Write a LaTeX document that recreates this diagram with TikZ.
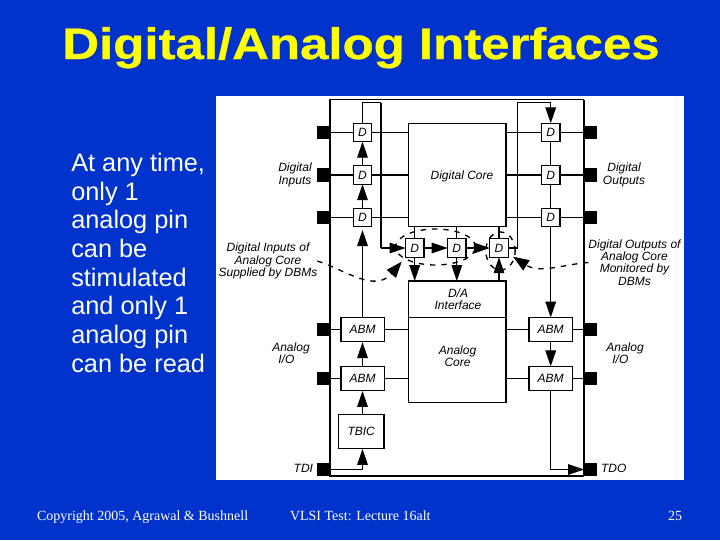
\documentclass[tikz,border=0pt]{standalone}
\usepackage{fontspec}
\setmainfont{Liberation Sans}
\newfontfamily\footfont{Liberation Serif}
\newfontfamily\titlefont[UprightFont=*-Bold,FakeBold=0.6]{LiberationSans}
\usetikzlibrary{arrows.meta,shapes.geometric}
\definecolor{slideblue}{HTML}{0033CC}
\definecolor{slideyellow}{HTML}{FFFF00}
\tikzset{
  x=0.75pt,y=-0.75pt,
  thin wire/.style={line width=0.8pt,black},
  thick wire/.style={line width=1.5pt,black},
  arr/.style={thin wire,-{Triangle[length=12pt,width=8pt]}},
  dsh/.style={line width=1pt,black,dash pattern=on 4pt off 4.5pt},
  pin/.style={fill=black,minimum width=9.75pt,minimum height=10pt,inner sep=0pt,outer sep=0pt},
  lab/.style={font=\fontsize{9}{9.2}\selectfont\itshape,black,align=center,inner sep=0pt,outer sep=0pt},
  cell/.style={draw=black,fill=white,line width=1pt,inner sep=0pt,outer sep=0pt,font=\fontsize{9}{9.2}\selectfont\itshape,align=center},
  dbox/.style={cell,minimum width=13.8pt,minimum height=13.8pt},
  abm/.style={cell,minimum width=32.5pt,minimum height=18pt},
  ell/.style={ellipse,dsh,draw,inner sep=0pt,outer sep=0pt},
  foot/.style={font=\footfont\fontsize{10.5}{12}\selectfont,white,inner sep=0pt,outer sep=0pt},
}
\begin{document}
\begin{tikzpicture}
\useasboundingbox (0,0) rectangle (720,540);
\fill[slideblue] (0,0) rectangle (720,540);
\fill[white] (216,96) rectangle (684,480);

\node[font=\titlefont\fontsize{33}{36}\selectfont,slideyellow,xscale=1.158,transform shape,inner sep=0pt,anchor=base] (title) at (361,59) {Digital/Analog Interfaces};
\node[font=\fontsize{19}{21.5}\selectfont,white,align=left,anchor=north west,inner sep=0pt] (body) at (71,153)
  {At any time,\\only 1\\analog pin\\can be\\stimulated\\and only 1\\analog pin\\can be read};
\node[foot,anchor=base west] (f1) at (37,520) {Copyright 2005, Agrawal \& Bushnell};
\node[foot,anchor=base west] (f2) at (290,520) {VLSI Test: Lecture 16alt};
\node[foot,anchor=base east] (f3) at (682,520) {25};

% chip outline
\coordinate (cTL) at (330,99.5);
\coordinate (cTR) at (584,99.5);
\coordinate (cBR) at (584,476);
\coordinate (cBL) at (330,476);
\draw[thin wire] (cTR) -- (cTL) -- (cBL) -- (cBR);
\draw[thick wire] (cTR) -- (cBR);

% cores
\node[cell,minimum width=73pt,minimum height=77pt,anchor=north west] (dcore) at (408.5,123.5) {};
\node[cell,minimum width=73pt,minimum height=27.3pt,anchor=north west] (dac) at (408.5,281) {};
\node[cell,minimum width=73pt,minimum height=64pt,anchor=north west] (acore) at (408.5,317.3) {};

% cells
\node[dbox] (dl1) at (362.5,132.5) {D};
\node[dbox] (dl2) at (362.5,175) {D};
\node[dbox] (dl3) at (362.5,217.5) {D};
\node[dbox] (dr1) at (550.7,132.5) {D};
\node[dbox] (dr2) at (550.7,175) {D};
\node[dbox] (dr3) at (550.7,217.5) {D};
\node[dbox] (dc1) at (414.7,248) {D};
\node[dbox] (dc2) at (456.8,248) {D};
\node[dbox] (dc3) at (499,248) {D};
\node[abm] (al1) at (362.5,329.5) {ABM};
\node[abm] (al2) at (362.5,378.3) {ABM};
\node[abm] (ar1) at (550.7,329.5) {ABM};
\node[abm] (ar2) at (550.7,378.3) {ABM};
\node[cell,minimum width=34.3pt,minimum height=25.5pt] (tbic) at (361.2,431.3) {TBIC};

% pins
\foreach \n/\y in {1/132.5,2/175,3/217.5,4/329.5,5/378.3,6/469.5}{
  \node[pin] (pl\n) at (323.5,\y) {};
  \node[pin] (pr\n) at (590.5,\y) {};
}

% wires
\draw[thin wire] (pl1) -- (dl1);
\draw[thin wire] (dl1) -- (dl1 -| dcore.west);
\draw[thick wire] (pl2) -- (dl2);
\draw[thick wire] (dl2) -- (dl2 -| dcore.west);
\draw[thin wire] (pl3) -- (dl3);
\draw[thin wire] (dl3) -- (dl3 -| dcore.west);
\draw[thin wire] (pr1) -- (dr1);
\draw[thin wire] (dr1) -- (dr1 -| dcore.east);
\draw[thick wire] (pr2) -- (dr2);
\draw[thick wire] (dr2) -- (dr2 -| dcore.east);
\draw[thin wire] (pr3) -- (dr3);
\draw[thin wire] (dr3) -- (dr3 -| dcore.east);
\draw[thin wire] (pl4) -- (al1);
\draw[thin wire] (al1) -- (al1 -| acore.west);
\draw[thin wire] (pl5) -- (al2);
\draw[thin wire] (al2) -- (al2 -| acore.west);
\draw[thin wire] (pr4) -- (ar1);
\draw[thin wire] (ar1) -- (ar1 -| acore.east);
\draw[thin wire] (pr5) -- (ar2);
\draw[thin wire] (ar2) -- (ar2 -| acore.east);

% scan chain, left
\coordinate (loopTL) at (362.5,102.5);
\coordinate (loopTM) at (380.7,102.5);
\coordinate (loopBM) at (380.7,248);
\draw[thin wire] (dl1.north) -- (loopTL) -- (loopTM);
\draw[thick wire] (loopTM) -- (loopBM);
\draw[arr] (loopBM) -- (dc1.west);
\draw[arr] (dl2.north) -- (dl1.south);
\draw[arr] (dl3.north) -- (dl2.south);
\draw[arr,shorten >=2.5pt] (al1.north) -- (dl3.south);
\draw[arr,shorten >=0.5pt] (al2.north) -- (al1.south);
\draw[arr,shorten >=0.5pt] (al2.south |- tbic.north) -- (al2.south);
\coordinate (tdiTurn) at (362.5,469.5);
\draw[thin wire] (pl6) -- (tdiTurn);
\draw[arr,shorten >=0.5pt] (tdiTurn) -- (tdiTurn |- tbic.south);

% scan chain, centre and right
\draw[arr] (dc1) -- (dc2);
\draw[arr] (dc2) -- (dc3);
\draw[thin wire] (dc1.north) -- (dc1.north |- dcore.south);
\draw[thin wire] (dc2.north) -- (dc2.north |- dcore.south);
\draw[thin wire] (dc3.north) -- (dc3.north |- dcore.south);
\draw[arr] (dc1.south) -- (dc1.south |- dac.north);
\draw[arr] (dc2.south) -- (dc2.south |- dac.north);
\draw[arr] (dc3.south |- dac.north) -- (dc3.south);
\coordinate (loopBR) at (517.7,248);
\coordinate (loopTR) at (517.7,102.5);
\coordinate (loopTN) at (550.7,102.5);
\draw[thin wire] (dc3.east) -- (loopBR) -- (loopTR) -- (loopTN);
\draw[arr] (loopTN) -- (dr1.north);
\draw[thin wire] (dr1.south) -- (dr2.north);
\draw[thin wire] (dr2.south) -- (dr3.north);
\draw[arr] (dr3.south) -- (ar1.north);
\draw[arr] (ar1.south) -- (ar2.north);
\coordinate (tdoTurn) at (550.7,469.5);
\draw[thin wire] (ar2.south) -- (tdoTurn);
\draw[arr] (tdoTurn) -- (pr6.west);

% labels in cores
\node[lab] (ldc) at (462,176.5) {Digital Core};
\node[lab] (ldac) at (458,299.5) {D/A\\Interface};
\node[lab] (lac) at (457.5,356.5) {Analog\\Core};
% outer labels
\node[lab] (ldi) at (295,175) {Digital\\Inputs};
\node[lab] (ldo) at (624,175) {Digital\\Outputs};
\node[lab] (lsup) at (268,261) {Digital Inputs of\\Analog Core\\Supplied by DBMs};
\node[lab] (lmon) at (634.5,262.5) {Digital Outputs of\\Analog Core\\Monitored by\\DBMs};
\node[lab] (lal) at (291,353) {Analog\\I/O\hspace*{7pt}};
\node[lab] (lar) at (625,353) {Analog\\I/O\hspace*{7pt}};
\node[lab,anchor=east] (ltdi) at (313,468) {TDI};
\node[lab,anchor=west] (ltdo) at (601,468) {TDO};

% dashed groupings
\node[ell,minimum width=60pt,minimum height=27pt] (grp1) at (435.5,247) {};
\node[ell,minimum width=22pt,minimum height=28.5pt] (grp2) at (500.5,251) {};
\coordinate (tipL) at (401.7,261.7);
\coordinate (tipR) at (513,256.7);
\draw[dsh,-{Triangle[length=12pt,width=9pt]}] (lsup.east) .. controls (345,270) and (375,293) .. (tipL);
\draw[dsh,-{Triangle[length=12pt,width=9pt]}] (lmon.west) .. controls (565,264) and (540,274) .. (tipR);
\end{tikzpicture}
\end{document}
